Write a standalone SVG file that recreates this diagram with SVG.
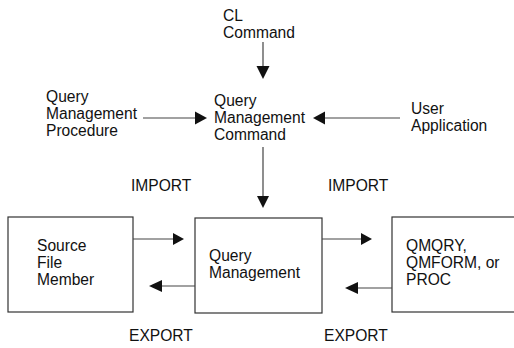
<svg xmlns="http://www.w3.org/2000/svg" width="514" height="348" viewBox="0 0 514 348">
<defs>
<style>
text{font-family:"Liberation Sans",Arial,sans-serif;font-size:15.6px;fill:#111}
.box{fill:#fff;stroke:#333;stroke-width:1.2}
.ln{stroke:#444;stroke-width:1.2;fill:none}
.hd{fill:#111}
</style>
</defs>
<rect width="514" height="348" fill="#fff"/>
<g id="cl-command"><text x="223" y="21">CL</text><text x="223" y="38">Command</text></g>
<g id="qm-procedure"><text x="46" y="102">Query</text><text x="46" y="119">Management</text><text x="46" y="136">Procedure</text></g>
<g id="qm-command"><text x="214" y="106">Query</text><text x="214" y="123">Management</text><text x="214" y="140">Command</text></g>
<g id="user-app"><text x="411" y="114">User</text><text x="411" y="131">Application</text></g>
<g id="source-file"><rect class="box" x="8" y="217" width="125" height="95"/><text x="37" y="251">Source</text><text x="37" y="268">File</text><text x="37" y="285">Member</text></g>
<g id="query-mgmt"><rect class="box" x="195" y="218" width="127" height="95"/><text x="209" y="261">Query</text><text x="209" y="278">Management</text></g>
<g id="qm-objects"><rect class="box" x="392" y="217" width="130" height="95"/><text x="406" y="251">QMQRY,</text><text x="406" y="268">QMFORM, or</text><text x="406" y="285">PROC</text></g>
<g id="labels"><text x="131" y="191">IMPORT</text><text x="328" y="191">IMPORT</text><text x="129" y="341">EXPORT</text><text x="324" y="341">EXPORT</text></g>
<g id="connectors">
<line class="ln" x1="263" y1="42" x2="263" y2="68"/><polygon class="hd" points="256.5,66 269.5,66 263,79"/>
<line class="ln" x1="143" y1="118" x2="196" y2="118"/><polygon class="hd" points="195,111.5 195,124.5 207,118"/>
<line class="ln" x1="400" y1="118" x2="324" y2="118"/><polygon class="hd" points="325,111.5 325,124.5 313,118"/>
<line class="ln" x1="263" y1="147" x2="263" y2="197"/><polygon class="hd" points="257,196 269,196 263,208"/>
<line class="ln" x1="133" y1="239" x2="174" y2="239"/><polygon class="hd" points="173,233 173,245 184,239"/>
<line class="ln" x1="195" y1="286" x2="161" y2="286"/><polygon class="hd" points="162,280 162,292 149,286"/>
<line class="ln" x1="322" y1="239" x2="362" y2="239"/><polygon class="hd" points="361,233 361,245 372,239"/>
<line class="ln" x1="392" y1="288" x2="357" y2="288"/><polygon class="hd" points="358,282 358,294 345,288"/>
</g>
</svg>
